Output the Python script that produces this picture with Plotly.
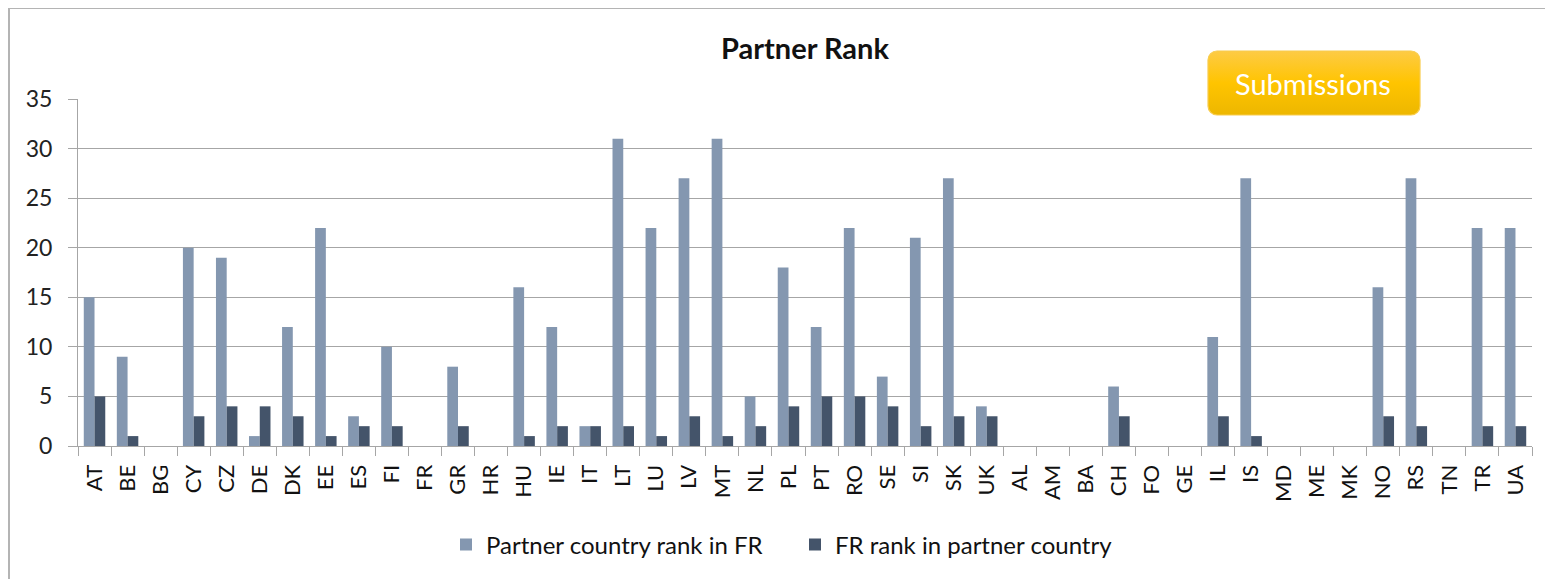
import base64
import plotly.graph_objects as go

countries = ["AT", "BE", "BG", "CY", "CZ", "DE", "DK", "EE", "ES", "FI", "FR", "GR", "HR", "HU", "IE",
             "IT", "LT", "LU", "LV", "MT", "NL", "PL", "PT", "RO", "SE", "SI", "SK", "UK", "AL", "AM",
             "BA", "CH", "FO", "GE", "IL", "IS", "MD", "ME", "MK", "NO", "RS", "TN", "TR", "UA"]
partner_rank_in_fr = [15, 9, 0, 20, 19, 1, 12, 22, 3, 10, 0, 8, 0, 16, 12,
                      2, 31, 22, 27, 31, 5, 18, 12, 22, 7, 21, 27, 4, 0, 0,
                      0, 6, 0, 0, 11, 27, 0, 0, 0, 16, 27, 0, 22, 22]
fr_rank_in_partner = [5, 1, 0, 3, 4, 4, 3, 1, 2, 2, 0, 2, 0, 1, 2,
                      2, 2, 1, 3, 1, 2, 4, 5, 5, 4, 2, 3, 3, 0, 0,
                      0, 3, 0, 0, 3, 1, 0, 0, 0, 3, 2, 0, 2, 2]
y_ticks = [0, 5, 10, 15, 20, 25, 30, 35]

OFF = 8  # page body margin in the browser
W, H = 1553 - OFF, 579 - OFF
L, R, T, B = 78 - OFF, 1532 - OFF, 99 - OFF, 446 - OFF

def px(x):
    return (x - OFF - L) / (R - L)

def py(y):
    return (B - (y - OFF)) / (B - T)

FONT = "Lato"
GRID = "#A6A6A6"

fig = go.Figure()
fig.add_trace(go.Bar(x=countries, y=partner_rank_in_fr, name="Partner country rank in FR",
                     marker=dict(color="#8497B0", line=dict(width=0))))
fig.add_trace(go.Bar(x=countries, y=fr_rank_in_partner, name="FR rank in partner country",
                     marker=dict(color="#44546A", line=dict(width=0))))

# Button image (gradient rounded rectangle)
bw, bh = 214, 66
svg = f'''<svg xmlns="http://www.w3.org/2000/svg" width="{bw}" height="{bh}" viewBox="0 0 {bw} {bh}">
<defs><linearGradient id="g" x1="0" y1="0" x2="0" y2="1">
<stop offset="0" stop-color="#FDCB45"/><stop offset="0.5" stop-color="#FFC400"/><stop offset="1" stop-color="#EDB700"/>
</linearGradient></defs>
<rect x="1" y="1" width="{bw-2}" height="{bh-2}" rx="9" ry="9" fill="url(#g)" stroke="#F8CC4C" stroke-width="1.2"/>
</svg>'''
src = "data:image/svg+xml;base64," + base64.b64encode(svg.encode()).decode()

fig.update_layout(
    width=W, height=H,
    margin=dict(l=L, r=W - R, t=T, b=H - B, pad=0),
    paper_bgcolor="white", plot_bgcolor="white",
    barmode="group", bargap=0.35, bargroupgap=0.0,
    font=dict(family=FONT, color="#222222"),
    title=dict(text="<b>Partner Rank</b>", x=0.5, xref="paper", xanchor="center",
               y=1 - (49 - OFF) / H, yanchor="middle", font=dict(family=FONT, size=29, color="#111111")),
    xaxis=dict(type="category", tickangle=-90, tickfont=dict(family=FONT, size=22, color="#111111"),
               showline=True, linecolor=GRID, linewidth=1, ticks="outside", tickson="boundaries",
               ticklen=9, tickcolor=GRID, showgrid=False, ticklabelstandoff=9),
    yaxis=dict(range=[0, 35], tickvals=y_ticks, tickfont=dict(family=FONT, size=23, color="#222222"),
               showline=True, linecolor=GRID, linewidth=1, ticks="outside", ticklen=9, tickcolor=GRID,
               showgrid=True, gridcolor=GRID, gridwidth=1, zeroline=False, ticklabelstandoff=11),
    legend=dict(orientation="h", x=0.5 - 10 / (R - L), xanchor="center", xref="paper", y=py(545), yanchor="middle",
                font=dict(family=FONT, size=24, color="#111111"), itemwidth=30, traceorder="normal",
                entrywidth=304, entrywidthmode="pixels"),
    images=[dict(source=src, xref="paper", yref="paper", x=px(1207), y=py(50), sizex=px(1207 + bw) - px(1207),
                 sizey=py(50) - py(50 + bh), xanchor="left", yanchor="top", sizing="stretch", layer="above")],
    annotations=[dict(text="Submissions", xref="paper", yref="paper", x=px(1313), y=py(83),
                      xanchor="center", yanchor="middle", showarrow=False,
                      font=dict(family=FONT, size=29, color="white"))],
    shapes=[dict(type="rect", xref="paper", yref="paper", x0=px(9), y0=py(600), x1=px(1600), y1=py(8),
                 line=dict(color="#B4B4B4", width=2), fillcolor="rgba(0,0,0,0)", layer="below")],
)

fig.write_html("out.html")
